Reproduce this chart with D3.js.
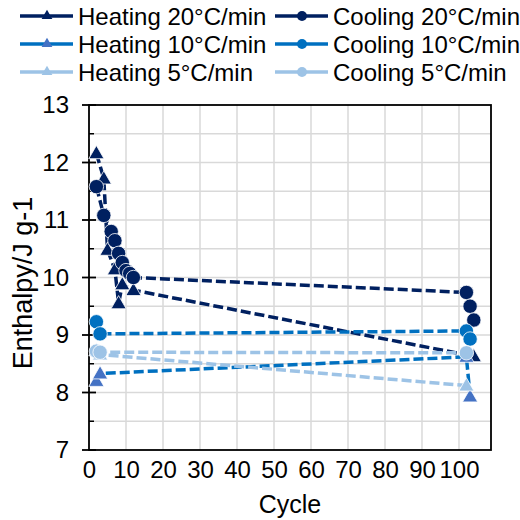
<!DOCTYPE html>
<html><head><meta charset="utf-8">
<script src="https://cdn.jsdelivr.net/npm/d3@7"></script>
<style>body{margin:0;background:#fff;} text{font-family:"Liberation Sans",Arial,sans-serif;fill:#000;}</style>
</head><body><svg id="c" width="520" height="520"></svg>
<script>
// Data (cycle, enthalpy J/g)
const heating20X = [2, 4, 5, 7, 8, 9, 12, 104];
const heating20Y = [12.16, 11.72, 10.48, 10.14, 9.55, 9.88, 9.78, 8.63];
const cooling20X = [2, 4, 6, 7, 8, 9, 10, 11, 12, 102, 103, 104];
const cooling20Y = [11.58, 11.08, 10.8, 10.64, 10.42, 10.26, 10.12, 10.07, 10.0, 9.74, 9.5, 9.26];
const heating10X = [2, 3, 102, 103];
const heating10Y = [8.2, 8.33, 8.62, 7.93];
const cooling10X = [2, 3, 102, 103];
const cooling10Y = [9.23, 9.02, 9.07, 8.93];
const heating5X = [2, 3, 102];
const heating5Y = [8.73, 8.66, 8.12];
const cooling5X = [2, 3, 102];
const cooling5Y = [8.72, 8.7, 8.69];
const seriesNames = ["Heating 20°C/min","Heating 10°C/min","Heating 5°C/min","Cooling 20°C/min","Cooling 10°C/min","Cooling 5°C/min"];
const xTicks = [0,10,20,30,40,50,60,70,80,90,100];
const yTicks = [7,8,9,10,11,12,13];

const series = [
  {name:seriesNames[0], xs:heating20X, ys:heating20Y, shape:"tri", line:"#002060", fill:"#002060"},
  {name:seriesNames[1], xs:heating10X, ys:heating10Y, shape:"tri", line:"#0070C0", fill:"#4472C4"},
  {name:seriesNames[2], xs:heating5X, ys:heating5Y, shape:"tri", line:"#9DC3E6", fill:"#9DC3E6"},
  {name:seriesNames[3], xs:cooling20X, ys:cooling20Y, shape:"circ", line:"#002060", fill:"#002060"},
  {name:seriesNames[4], xs:cooling10X, ys:cooling10Y, shape:"circ", line:"#0070C0", fill:"#0070C0"},
  {name:seriesNames[5], xs:cooling5X, ys:cooling5Y, shape:"circ", line:"#9DC3E6", fill:"#9DC3E6"}
];

const svg = d3.select("#c");
const L=89, R=491, T=105, B=450;
const x = d3.scaleLinear().domain([0,108.65]).range([L,R]);
const y = d3.scaleLinear().domain([7,13]).range([B,T]);

// gridlines
const g = svg.append("g");
g.selectAll(".vg").data(d3.range(10,110,10)).join("line")
  .attr("x1",d=>x(d)).attr("x2",d=>x(d)).attr("y1",T).attr("y2",B)
  .attr("stroke","#D9D9D9").attr("stroke-width",1.5);
g.selectAll(".hg").data(d3.range(7.5,13,0.5)).join("line")
  .attr("x1",L).attr("x2",R).attr("y1",d=>y(d)).attr("y2",d=>y(d))
  .attr("stroke","#D9D9D9").attr("stroke-width",1.5);

// box
svg.append("rect").attr("x",L).attr("y",T).attr("width",R-L).attr("height",B-T)
  .attr("fill","none").attr("stroke","#000").attr("stroke-width",1.8);

// y axis ticks
const yAxis = d3.axisLeft(y).tickValues(yTicks).tickSize(0).tickPadding(20).tickFormat(d3.format("d"));
const ya = svg.append("g").attr("transform",`translate(${L},0)`).call(yAxis);
ya.select(".domain").remove();
ya.selectAll("text").attr("font-size",24).style("font-family","Liberation Sans, Arial");
svg.selectAll(".ymaj").data(yTicks).join("line")
  .attr("x1",L-7).attr("x2",L+7).attr("y1",d=>y(d)).attr("y2",d=>y(d))
  .attr("stroke","#000").attr("stroke-width",1.8);
svg.selectAll(".ymin").data(d3.range(7.5,13,1)).join("line")
  .attr("x1",L).attr("x2",L+5).attr("y1",d=>y(d)).attr("y2",d=>y(d))
  .attr("stroke","#000").attr("stroke-width",1.5);

// x axis labels
const xAxis = d3.axisBottom(x).tickValues(xTicks).tickSize(0).tickPadding(11);
const xa = svg.append("g").attr("transform",`translate(0,${B})`).call(xAxis);
xa.select(".domain").remove();
xa.selectAll("text").attr("font-size",24).style("font-family","Liberation Sans, Arial");

// axis titles
svg.append("text").attr("x",290).attr("y",513).attr("text-anchor","middle").attr("font-size",25).text("Cycle");
svg.append("text").attr("transform","translate(32,283) rotate(-90)").attr("text-anchor","middle").attr("font-size",27).text("Enthalpy/J g-1");

const line = d3.line().x(d=>x(d[0])).y(d=>y(d[1]));
const tri = d3.symbol().type(d3.symbolTriangle).size(100);

// lines first
series.forEach(s=>{
  const pts = s.xs.map((v,i)=>[v,s.ys[i]]);
  svg.append("path").attr("d",line(pts)).attr("fill","none")
    .attr("stroke",s.line).attr("stroke-width",3.5).attr("stroke-dasharray","10,4");
});
// markers
series.forEach(s=>{
  const pts = s.xs.map((v,i)=>[v,s.ys[i]]);
  if(s.shape==="tri"){
    svg.selectAll(null).data(pts).join("path").attr("d",tri)
      .attr("transform",d=>`translate(${x(d[0])},${y(d[1])+1})`)
      .attr("fill",s.fill).attr("stroke","#fff").attr("stroke-width",0.8);
  } else {
    svg.selectAll(null).data(pts).join("circle")
      .attr("cx",d=>x(d[0])).attr("cy",d=>y(d[1])).attr("r",7.2)
      .attr("fill",s.fill).attr("stroke","#fff").attr("stroke-width",0.8);
  }
});

// legend
const legX=[20,275], legY=[16,44,72];
series.forEach((s,i)=>{
  const col = i<3?0:1, row=i%3;
  const lx=legX[col], ly=legY[row];
  const lg = svg.append("g");
  lg.append("line").attr("x1",lx).attr("x2",lx+53).attr("y1",ly).attr("y2",ly)
    .attr("stroke",s.line).attr("stroke-width",3.5);
  if(s.shape==="tri"){
    lg.append("path").attr("d",d3.symbol().type(d3.symbolTriangle).size(50)())
      .attr("transform",`translate(${lx+27},${ly})`).attr("fill",s.fill);
  } else {
    lg.append("circle").attr("cx",lx+27).attr("cy",ly).attr("r",5).attr("fill",s.fill);
  }
  lg.append("text").attr("x",lx+58).attr("y",ly+8.5).attr("font-size",24).text(s.name);
});
</script></body></html>
